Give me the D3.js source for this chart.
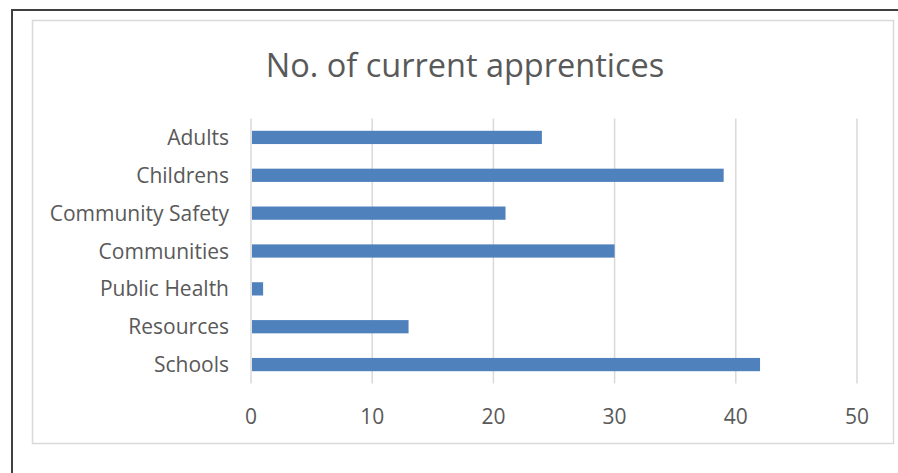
<!DOCTYPE html>
<html>
<head>
<meta charset="utf-8">
<script src="https://cdn.jsdelivr.net/npm/d3@7"></script>
<style>
  body { margin: 0; background: #fff; }
  text { font-family: "Open Sans", "Liberation Sans", sans-serif; fill: #595959; }
</style>
</head>
<body>
<div id="chart"></div>
<script>
// data
const categories = ["Adults", "Childrens", "Community Safety", "Communities", "Public Health", "Resources", "Schools"];
const apprentices = [24, 39, 21, 30, 1, 13, 42];
const xTicks = [0, 10, 20, 30, 40, 50];
const title = "No. of current apprentices";

const W = 898, H = 473;
const plot = {left: 251, right: 857, top: 118.5, bottom: 383.5};

const svg = d3.select("#chart")
  .append("svg")
    .attr("width", W)
    .attr("height", H);

// outer frame (top + left only)
svg.append("path")
  .attr("d", `M12,${H} L12,10 L${W},10`)
  .attr("fill", "none")
  .attr("stroke", "#404040")
  .attr("stroke-width", 2);

// chart area border
svg.append("rect")
  .attr("x", 32.5)
  .attr("y", 20.5)
  .attr("width", 861)
  .attr("height", 423)
  .attr("fill", "#fff")
  .attr("stroke", "#d9d9d9")
  .attr("stroke-width", 1.5);

const x = d3.scaleLinear()
  .domain([0, 50])
  .range([plot.left, plot.right]);

const y = d3.scaleBand()
  .domain(categories)
  .range([plot.top, plot.bottom])
  .paddingInner(0.65)
  .paddingOuter(0.325);

// gridlines
svg.append("g")
  .selectAll("line")
  .data(xTicks)
  .join("line")
    .attr("x1", d => x(d))
    .attr("x2", d => x(d))
    .attr("y1", plot.top)
    .attr("y2", plot.bottom)
    .attr("stroke", "#d9d9d9")
    .attr("stroke-width", 1.5);

// bars
const rows = categories.map((c, i) => ({cat: c, value: apprentices[i]}));
svg.append("g")
  .selectAll("rect")
  .data(rows)
  .join("rect")
    .attr("x", x(0) + 1)
    .attr("y", d => y(d.cat))
    .attr("width", d => x(d.value) - x(0) - 1)
    .attr("height", y.bandwidth())
    .attr("fill", "#4f81bd");

// category labels
svg.append("g")
  .selectAll("text")
  .data(categories)
  .join("text")
    .attr("x", 229)
    .attr("y", d => y(d) + y.bandwidth() / 2)
    .attr("dy", "0.36em")
    .attr("text-anchor", "end")
    .style("font-size", "21px")
    .text(d => d);

// tick labels
svg.append("g")
  .selectAll("text")
  .data(xTicks)
  .join("text")
    .attr("x", d => x(d))
    .attr("y", 424)
    .attr("text-anchor", "middle")
    .style("font-size", "21px")
    .text(d => d);

// title
svg.append("text")
  .attr("x", 465)
  .attr("y", 77)
  .attr("text-anchor", "middle")
  .style("font-size", "32.5px")
  .text(title);
</script>
</body>
</html>
